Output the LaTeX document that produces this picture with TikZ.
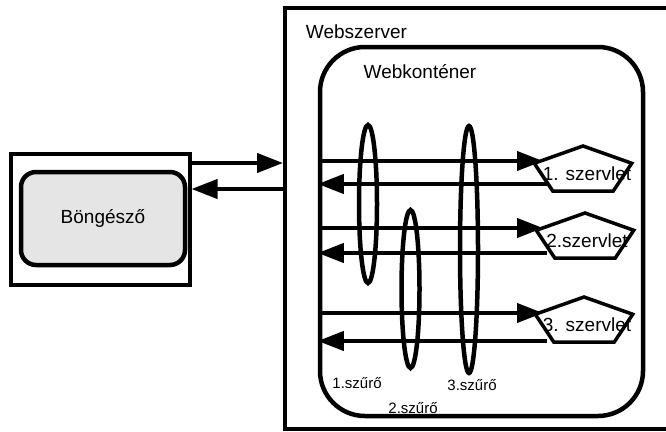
\documentclass[tikz,border=0pt]{standalone}
\usepackage{fontspec}
\setmainfont{Liberation Sans}
\usetikzlibrary{positioning,shapes.geometric,arrows.meta}

\begin{document}
\begin{tikzpicture}[x=1pt,y=-1pt,
	every node/.style={font=\fontsize{19}{22}\selectfont},
	arr/.style={line width=4pt,-{Triangle[length=26pt,width=19pt]}},
	szuro/.style={ellipse,draw=black,line width=4.5pt,minimum width=18pt,inner sep=0pt},
	pent/.style={regular polygon,regular polygon sides=5,draw=black,line width=3.5pt,minimum size=50pt,inner sep=0pt,xscale=2.05},
	kicsi/.style={font=\fontsize{15}{18}\selectfont}]
	\useasboundingbox (0,0) rectangle (666,431);
	
	\node[minimum width=179pt,minimum height=131pt,draw=black,line width=4pt] (b) at (100,219) {};
	\node[minimum width=164pt,minimum height=93pt,draw=black,fill=black!10,line width=4.5pt,rounded corners=15pt] (bg) at (103,218.5) {Böngésző};
	
	\node[minimum width=435pt,minimum height=420.5pt,draw=black,line width=4pt] (ws) at (502.5,218.25) {};
	\node (wst) at (356.5,32) {Webszerver};
	
	\node[minimum width=323pt,minimum height=369pt,draw=black,line width=4.5pt,rounded corners=45pt] (wk) at (481.5,231.5) {};
	\node (wkt) at (420,72) {Webkonténer};
	
	\draw[arr] (b.east |- 0,163)--(ws.west |- 0,163);
	\draw[arr] (ws.west |- 0,189)--(b.east |- 0,189);
	
	\node[szuro,minimum height=158pt] (f1) at (368,204) {};
	\node[szuro,minimum height=158pt] (f2) at (410.5,289) {};
	\node[szuro,minimum height=247pt] (f3) at (469,249.5) {};
	\node[kicsi] (f1t) at (357,383) {1.szűrő};
	\node[kicsi] (f2t) at (413,408) {2.szűrő};
	\node[kicsi] (f3t) at (472,385) {3.szűrő};
	
	\foreach \i/\px/\py/\ry/\ly/\t in {1/583/171/161/184/{1. szervlet},2/585/238/228/253/{2.szervlet},3/584/322/313/341/{3. szervlet}}{%
		\node[pent] (p\i) at (\px,\py) {};
		\node (s\i) at (587,\py+3) {\t};
		\coordinate (be\i) at (543,\ry);
		\coordinate (ki\i) at (547,\ly);
		\draw[arr] (wk.west |- be\i)--(be\i);
		\draw[arr] (ki\i)--(wk.west |- ki\i);
	}
\end{tikzpicture}
\end{document}
